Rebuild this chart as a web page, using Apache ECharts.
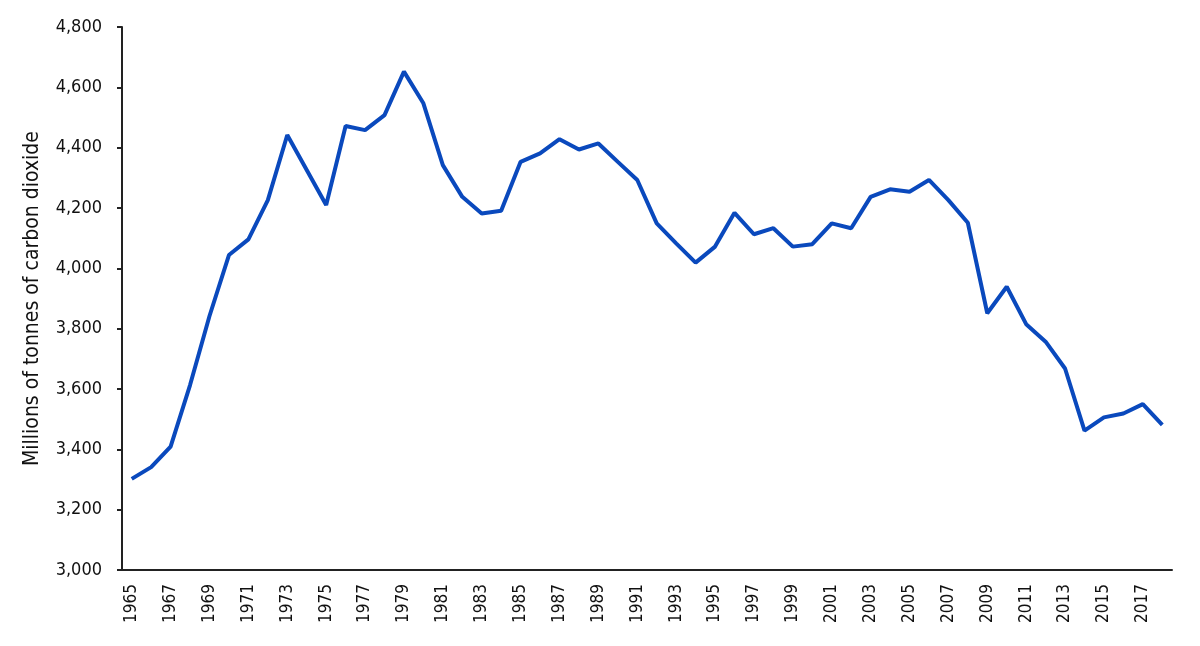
<!DOCTYPE html>
<html>
<head>
<meta charset="utf-8">
<title>CO2 emissions</title>
<style>
  html, body { margin: 0; padding: 0; background: #fff; }
  #main { width: 1200px; height: 646px; }
</style>
</head>
<body>
<div id="main"></div>
<script src="https://cdn.jsdelivr.net/npm/echarts@6/dist/echarts.min.js"></script>
<script>
// years on the x axis
var years = [];
for (var y = 1965; y <= 2018; y++) years.push(String(y));

// millions of tonnes of CO2
var emissions = [
  3302, 3341, 3409, 3613, 3842, 4044, 4096, 4226, 4442, 4326,
  4210, 4472, 4458, 4508, 4652, 4547, 4342, 4237, 4182, 4191,
  4353, 4381, 4428, 4394, 4414, 4353, 4293, 4149, 4083, 4019,
  4072, 4184, 4113, 4133, 4072, 4080, 4149, 4133, 4237, 4262,
  4254, 4293, 4226, 4151, 3851, 3939, 3815, 3757, 3668, 3462,
  3506, 3519, 3550, 3481
];

var yMin = 3000, yMax = 4800, yStep = 200;

var font = 'DejaVu Sans Condensed, Liberation Sans, sans-serif';

var myChart = echarts.init(document.getElementById('main'));

var option = {
    animation: false,
    grid: { left: 122, right: 28, top: 27, bottom: 76 },
    xAxis: {
        type: 'category',
        data: years,
        boundaryGap: true,
        axisLine: { lineStyle: { color: '#222', width: 2 } },
        axisTick: { interval: 0, length: 6, lineStyle: { color: '#222', width: 2 } },
        axisLabel: {
            interval: 1,
            rotate: 90,
            margin: 14,
            color: '#111',
            fontSize: 17,
            fontFamily: font
        },
        splitLine: { show: false }
    },
    yAxis: {
        type: 'value',
        min: yMin,
        max: yMax,
        interval: yStep,
        name: 'Millions of tonnes of carbon dioxide',
        nameLocation: 'middle',
        nameGap: 79,
        nameRotate: 90,
        nameTextStyle: { color: '#111', fontSize: 21, fontFamily: font },
        axisLine: { show: true, lineStyle: { color: '#222', width: 2 } },
        axisTick: { show: true, length: 5, lineStyle: { color: '#222', width: 2 } },
        axisLabel: {
            margin: 20,
            color: '#111',
            fontSize: 18,
            fontFamily: font,
            formatter: function (v) { return v.toLocaleString('en-US'); }
        },
        splitLine: { show: false }
    },
    series: [
        {
            type: 'line',
            data: emissions,
            symbol: 'none',
            lineStyle: { color: '#0a49bd', width: 4 },
            itemStyle: { color: '#0a49bd' }
        }
    ]
};

myChart.setOption(option);
</script>
</body>
</html>
